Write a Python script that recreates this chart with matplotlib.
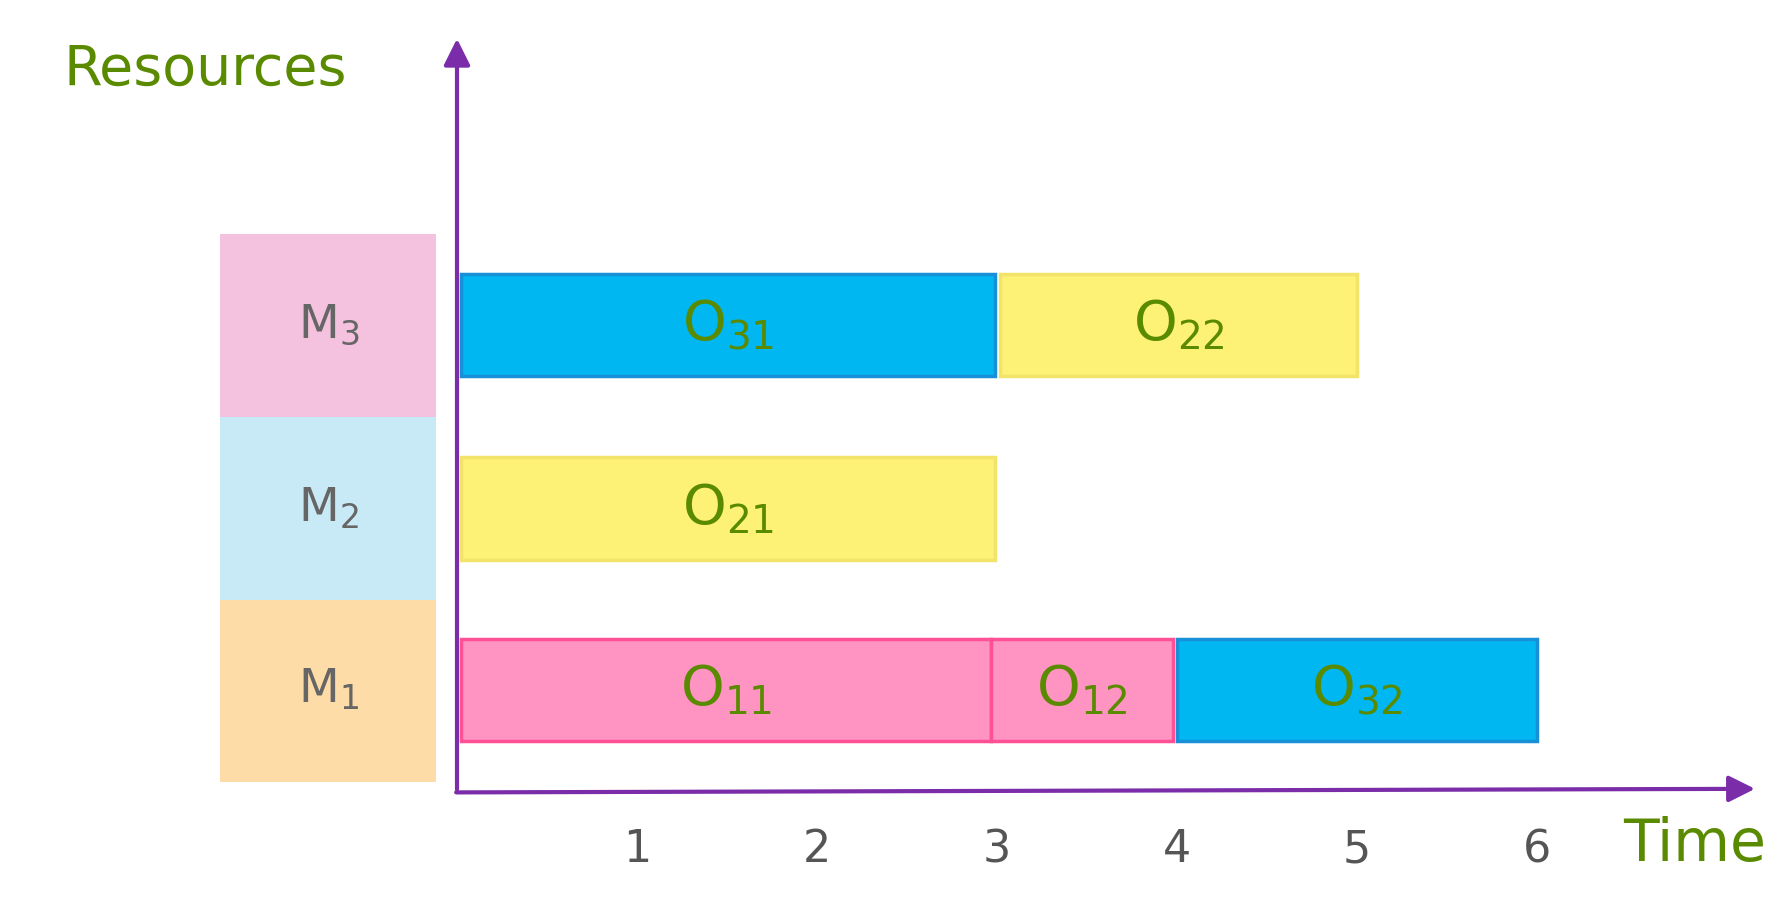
import matplotlib.pyplot as plt
from matplotlib.patches import Rectangle

machines = ["M$_1$", "M$_2$", "M$_3$"]
machine_colors = ["#FDDCA8", "#C8EAF6", "#F4C2DE"]
row_centers = [0.57, 1.58, 2.6]

# operation, machine row, start, end
ops = ["O$_{11}$", "O$_{12}$", "O$_{32}$", "O$_{21}$", "O$_{31}$", "O$_{22}$"]
op_rows = [0, 0, 0, 1, 2, 2]
op_start = [0.02, 2.97, 4.0, 0.02, 0.02, 3.02]
op_end = [2.97, 3.98, 6.0, 2.99, 2.99, 5.0]
op_fill = ["#FF94C2", "#FF94C2", "#00B7F1", "#FDF275", "#00B7F1", "#FDF275"]
op_edge = ["#FF5095", "#FF5095", "#1890D8", "#F2E46A", "#1890D8", "#F2E46A"]

ticks = [1, 2, 3, 4, 5, 6]

purple = "#7B2CA8"
green = "#5A8A00"

fig = plt.figure(figsize=(17.92, 9.11), dpi=100)
ax = fig.add_axes([0, 0, 1, 1])
ax.set_xlim(-2.54, 7.42)
ax.set_ylim(-0.66, 4.41)
ax.axis("off")

bar_h = 0.57
for i, (name, col) in enumerate(zip(machines, machine_colors)):
    ax.add_patch(Rectangle((-1.315, row_centers[i] - 0.51), 1.2, 1.02,
                           facecolor=col, edgecolor="none"))
    ax.text(-0.715, row_centers[i], name, fontsize=34, color="#666666",
            ha="center", va="center")

for name, r, s, e, fc, ec in zip(ops, op_rows, op_start, op_end, op_fill, op_edge):
    ax.add_patch(Rectangle((s, row_centers[r] - bar_h / 2), e - s, bar_h,
                           facecolor=fc, edgecolor=ec, linewidth=2.5))
    ax.text((s + e) / 2, row_centers[r], name, fontsize=40, color=green,
            ha="center", va="center")

ax.annotate("", xy=(0.0, 4.21), xytext=(0.0, 0.0),
            arrowprops=dict(arrowstyle="-|>", color=purple, lw=3, mutation_scale=40))
ax.annotate("", xy=(7.23, 0.02), xytext=(-0.02, 0.0),
            arrowprops=dict(arrowstyle="-|>", color=purple, lw=3, mutation_scale=40))

for t in ticks:
    ax.text(t, -0.32, str(t), fontsize=32, color="#555555", ha="center", va="center")

ax.text(6.88, -0.29, "Time", fontsize=42, color=green, ha="center", va="center")
ax.text(-1.4, 4.02, "Resources", fontsize=40, color=green, ha="center", va="center")

fig.savefig("out.png", dpi=100)
